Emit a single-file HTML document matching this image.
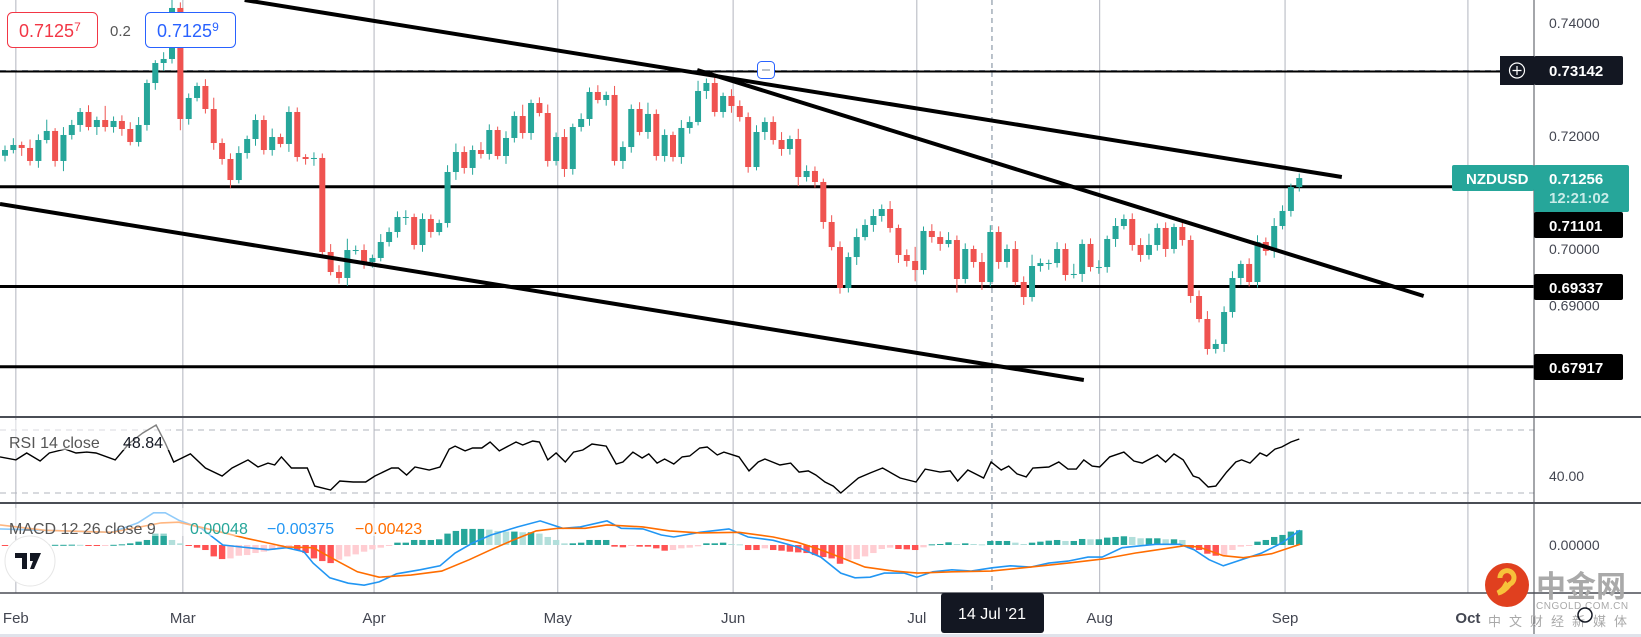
<!DOCTYPE html>
<html><head><meta charset="utf-8"><style>
html,body{margin:0;padding:0;background:#fff;}
svg{display:block;font-family:"Liberation Sans","Noto Sans CJK SC",sans-serif;}
</style></head><body>
<svg id="chart" width="1641" height="637" viewBox="0 0 1641 637">
<rect x="0" y="0" width="1641" height="637" fill="#ffffff"/>
<g id="grid"></g>
<g id="levels"></g>
<g id="candles"></g>
<g id="trend"></g>
<g id="rsi"></g>
<g id="macd"></g>
<g id="axes"></g>
</svg>
<script>
const closes=[0.71752,0.71841,0.71788,0.71558,0.71929,0.72089,0.71558,0.72018,0.72195,0.72425,0.72159,0.72283,0.72159,0.72266,0.72124,0.71894,0.72195,0.72938,0.73292,0.73363,0.74266,0.72301,0.72673,0.72885,0.72478,0.71876,0.71593,0.71221,0.71699,0.71947,0.72283,0.71752,0.71982,0.71859,0.72425,0.71628,0.71593,0.71611,0.69947,0.69593,0.69487,0.69982,0.69982,0.69770,0.69841,0.70124,0.70301,0.70566,0.70566,0.70071,0.70531,0.70301,0.70460,0.71363,0.71717,0.71434,0.71752,0.71682,
0.72106,0.71646,0.71965,0.72354,0.72053,0.72584,0.72407,0.71558,0.71982,0.71416,0.72159,0.72301,0.72779,0.72637,0.72726,0.71558,0.71805,0.72478,0.72071,0.72390,0.71646,0.72018,0.71628,0.72142,0.72248,0.72797,0.72938,0.72425,0.72708,0.72531,0.72336,0.71451,0.72071,0.72248,0.71929,0.71770,0.71947,0.71274,0.71381,0.71186,0.70478,0.70035,0.69310,0.69858,0.70212,0.70425,0.70584,0.70708,0.70372,0.69894,0.69788,0.69628,0.70319,0.70212,0.70089,0.70159,0.69469,0.70000,0.69770,
0.69416,0.70301,0.69770,0.70000,0.69416,0.69150,0.69699,0.69752,0.69752,0.70000,0.69540,0.69558,0.70089,0.69681,0.69681,0.70177,0.70407,0.70531,0.70071,0.69894,0.70071,0.70372,0.70000,0.70389,0.70159,0.69168,0.68761,0.68230,0.68319,0.68885,0.69487,0.69735,0.69416,
0.70124,0.69965,0.70407,0.70673,0.71097,0.71256];
const firstOpen=0.71650;
const wickUp=[8,12,6,15,10,20,5,14,9,7,12,6,25,8,10,12,14,6,5,12,18,10,8,6,12,20,8,10,12,6,10,8,15,6,10,8,5,10,8,14,12,20,8,10,6,14,8,10,12,6,10,8,6,12,15,10,8,14,10,6,12,8,20,6,10,15,8,14,6,10,8,12,6,16,10,8,12,20,8,10,6,14,10,18,8,10,6,12,10,8,12,8,10,14,6,18,10,8,6,12,10,8,15,10,12,8,14,6,10,25,8,12,10,14,8,10,6,16,12,10,8,14,10,20,8,6,12,10,18,8,10,12,6,14,8,10,12,20,8,10,6,12,8,10,14,8,10,12,6,10,12,8,14,10,6,8];
const wickDn=[10,6,14,8,12,6,10,18,8,12,6,14,8,10,12,6,8,10,12,14,8,20,10,6,8,12,10,14,6,10,12,8,10,6,14,8,10,12,8,6,10,14,8,12,10,6,8,10,14,8,12,10,6,8,14,10,12,8,10,6,14,8,10,12,6,10,8,14,10,8,12,6,10,8,14,10,6,12,8,10,8,12,10,6,14,8,10,12,8,10,6,14,8,12,10,16,8,10,12,6,10,8,14,6,12,10,8,14,10,20,8,10,12,6,24,8,10,14,8,12,10,6,14,8,10,12,8,10,6,14,8,12,10,14,6,10,12,8,10,14,8,10,12,6,10,8,14,10,12,8,10,8,12,6,10,8];
const levelPrices=[0.73142,0.71101,0.69337,0.67917];
const priceTicks=["0.74000","0.72000","0.70000","0.69000"];
const priceTickVals=[0.74,0.72,0.70,0.69];
const monthLabels=["Feb","Mar","Apr","May","Jun","Jul","Aug","Sep","Oct"];
const monthBars=[1.3,21.3,44.2,66.2,87.2,109.2,131.1,153.3,175.2];
const crossBar=118.2;
const trendStartBar=[28.7,82.9,-0.6];
const trendStartPrice=[0.74407,0.73168,0.70796];
const trendEndBar=[160.1,169.9,129.2];
const trendEndPrice=[0.71274,0.69168,0.67681];
const rsiIdx=[-0.6,1.3,2.6,4.2,5.3,7.2,8.5,9.8,10.9,13.2,14.9,16.5,18.1,19.2,20.2,22.2,24,26,27.2,29.1,30.3,31.5,32.3,33.1,34.3,36.2,37.1,39,40.1,41.7,43.2,44.3,46.3,47.1,48.1,49.1,50.8,52.1,53.2,53.9,55.1,56,57.1,58.1,59.2,61.2,62,63.2,64,65,66,67.1,68.1,69.2,70.3,72,73.2,74,75.2,76.3,77.1,78.1,79,80.1,81.1,82,83.2,84.1,85.3,86.1,87.9,89.1,90.2,91,92.8,94.1,95.1,96.2,97.1,98.2,99.2,100.1,102.2,103.6,105.1,107.2,109.1,110.2,112,113.2,114.1,115.3,117.2,118.1,119.3,120.2,121.2,122.3,123.1,125,126.2,127.3,128.3,129.2,130.2,131.1,132.3,134,135.2,136.2,138,139,140,141.1,142.3,143,144.1,145,146.3,147.4,148.1,149.1,150.3,151.1,152.1,152.9,154,155];
const rsiVal=[52.9,51.0,55.4,50.3,55.4,57.9,55.4,56.0,55.4,51.0,61.7,68.1,73.2,61.7,49.7,54.8,45.9,40.8,45.9,51.0,46.5,49.0,47.8,52.9,45.9,45.9,34.4,31.9,37.6,37.0,37.0,40.8,45.9,45.9,41.4,46.5,44.6,46.5,57.9,59.8,56.7,58.6,58.6,62.4,56.7,62.4,60.5,63.0,62.4,51.0,55.4,49.7,56.0,57.3,61.1,59.8,48.4,49.7,56.0,52.2,54.8,49.0,51.6,48.4,52.9,53.5,58.6,59.2,54.1,56.0,52.9,44.0,49.7,51.6,47.8,49.0,43.3,44.0,41.4,37.0,34.4,30.0,39.5,42.7,45.9,39.5,37.0,45.2,43.3,44.0,37.6,44.6,39.5,49.7,44.6,47.1,42.1,40.2,45.9,46.5,49.7,45.2,45.2,51.0,47.1,46.5,52.9,56.0,50.3,49.0,54.1,49.7,54.8,51.0,40.8,39.5,33.8,34.4,43.3,49.7,51.0,49.0,55.4,53.5,57.9,59.2,62.4,64.3];
const macdIdx=[-0.6,4.8,12.8,15.9,17.8,19.2,20.8,23.5,26.1,28.3,31.5,33.7,35.8,36.9,38.9,41.1,43,44.8,46.9,49.7,52.1,53.9,56,58.2,61.4,64.1,66.8,68.9,72.1,73.8,76.4,78.6,80.1,83.2,86.7,89,92,94.9,97.7,100.1,101.8,103.6,105.3,107.7,109.2,111.1,113.4,115.7,118.2,120.4,122.8,125,127.3,129.7,131.4,133.8,137.8,140.7,142.4,144.2,145.9,148.3,150.5,152.9,155.1];
const macdVal=[0.0024,0.0022,0.0019,0.0033,0.0048,0.0048,0.0037,0.0025,0,-0.0003,-0.0007,-0.0004,-0.001,-0.0027,-0.0049,-0.0057,-0.006,-0.0055,-0.0043,-0.0037,-0.0031,-0.0012,0.0003,0.0015,0.0027,0.0036,0.0025,0.0027,0.0036,0.0025,0.0024,0.0015,0.0012,0.0019,0.0024,0.0012,0.0007,-0.0003,-0.0018,-0.0042,-0.0049,-0.0048,-0.0042,-0.0042,-0.0048,-0.004,-0.0037,-0.0039,-0.0034,-0.0031,-0.0033,-0.0027,-0.0024,-0.0018,-0.0018,-0.0004,0.0001,0.0001,-0.0007,-0.0022,-0.0031,-0.0021,-0.0012,0.0003,0.0022];
const signalIdx=[-0.6,4.8,12.8,18.7,20.8,24,28.9,33.7,36.9,39.5,42.2,44.8,48.6,52.3,55.6,58.2,60.8,63.6,66.2,69.5,72.1,76.4,79.6,83.2,87.9,92,94.9,97.7,100.6,103,106.5,109.3,113.4,118.1,122.8,127.3,131.4,135.4,141.3,143,145.9,148.3,151.7,155.1];
const signalVal=[0.003,0.0022,0.0019,0.0033,0.0034,0.0025,0.001,-0.0003,-0.0004,-0.0022,-0.004,-0.0048,-0.0045,-0.0039,-0.0022,-0.0007,0.0007,0.0021,0.0025,0.0025,0.003,0.0027,0.0021,0.0018,0.0019,0.0012,0.0004,-0.0007,-0.0021,-0.0033,-0.0039,-0.0042,-0.004,-0.0039,-0.0033,-0.0027,-0.0021,-0.0012,-0.0001,-0.0003,-0.0016,-0.0019,-0.0013,0.0001];
const histVal=[-0.00005,-0.00005,-0.0001,-0.00005,0.00003,0.00003,0.00003,0.00003,0.00005,0.00003,-0.00005,-0.0001,-0.00005,0.00003,0.0001,0.00025,0.0005,0.00075,0.0017,0.0017,0.00075,0.00025,-0.00015,-0.0004,-0.00075,-0.0017,-0.0021,-0.002,-0.0016,-0.0015,-0.0012,-0.001,-0.00075,-0.0006,-0.0005,-0.00075,-0.0012,-0.002,-0.0024,-0.0027,-0.0022,-0.0017,-0.0014,-0.001,-0.00065,-0.0004,-0.00015,0.00035,0.00035,0.00075,0.00075,0.00075,0.00085,0.0017,0.0021,0.0024,0.0024,0.0024,0.0023,0.0021,0.002,0.002,0.0019,0.0019,0.0017,0.0012,0.00075,0.00025,0.00025,0.00035,0.00075,0.00075,0.00075,-0.00025,-0.00035,-0.00015,-0.00025,-0.00025,-0.0005,-0.00085,-0.00075,-0.0005,-0.0004,-0.0002,0.00025,0.00025,0.00035,0.00015,0.0001,-0.00075,-0.00075,-0.0005,-0.00075,-0.00085,-0.001,-0.0011,-0.0012,-0.0015,-0.0018,-0.002,-0.0028,-0.0022,-0.0021,-0.0017,-0.0012,-0.0006,-0.0004,-0.0006,-0.00065,-0.00075,-0.00035,0.0001,0.00015,0.0004,0.00015,0.00025,0.00015,0.0001,0.0006,0.0006,0.0006,0.00035,0.00015,0.00035,0.0005,0.00065,0.00075,0.0006,0.0006,0.0009,0.00085,0.00085,0.0011,0.0012,0.0013,0.0012,0.001,0.001,0.001,0.00085,0.00085,0.00075,-0.0005,-0.00075,-0.0013,-0.0016,-0.0015,-0.00075,-0.00025,-0.00015,0.0005,0.00075,0.0012,0.0015,0.002,0.0022];

const NS='http://www.w3.org/2000/svg';
const X0=5, STEP=8.35, PLOT_R=1534;
function xOf(i){return X0+STEP*i;}
function yP(p){return 136+(0.72-p)*5650;}
function yR(v){return 430+(70-v)*1.575;}
function yM(v){return 545-v*6700;}
function mk(tag,attrs,parent){const e=document.createElementNS(NS,tag);for(const k in attrs)e.setAttribute(k,attrs[k]);parent.appendChild(e);return e;}
function txt(s,attrs,parent){const e=mk('text',attrs,parent);e.textContent=s;return e;}
const G=id=>document.getElementById(id);

// grid
const grid=G('grid');
monthBars.forEach((b,k)=>{
  const l=mk('line',{x1:xOf(b),x2:xOf(b),y1:0,y2:593,stroke:'#b2b5be','stroke-width':1},grid);
  
  
});
const ch=mk('line',{x1:xOf(crossBar),x2:xOf(crossBar),y1:0,y2:593,stroke:'#758696','stroke-width':1,'stroke-dasharray':'5,4'},grid);



// levels
const lv=G('levels');
mk('line',{x1:0,x2:PLOT_R,y1:yP(levelPrices[0])-1,y2:yP(levelPrices[0])-1,stroke:'#9aa4b5','stroke-width':1,'stroke-dasharray':'6,5'},lv);
levelPrices.forEach((p,k)=>{
  const xe=k===1?1452:PLOT_R;
  const l=mk('line',{x1:0,x2:xe,y1:yP(p),y2:yP(p),stroke:'#000',"stroke-width":k===0?2:3},lv);
  
  
});

// candles
const cg=G('candles');
for(let i=0;i<closes.length;i++){
  const o=i===0?firstOpen:closes[i-1], c=closes[i];
  const up=c>=o, col=up?'#26a69a':'#ef5350';
  const hi=Math.max(o,c)+wickUp[i]*0.0001, lo=Math.min(o,c)-wickDn[i]*0.0001;
  const x=xOf(i);
  const w=mk('line',{x1:x,x2:x,y1:yP(hi),y2:yP(lo),stroke:col,'stroke-width':1},cg);
  
  
  const yt=yP(Math.max(o,c)), yb=yP(Math.min(o,c));
  const r=mk('rect',{x:x-3,y:yt,width:6,height:Math.max(1,yb-yt),fill:col},cg);
  
  
}

// trend lines
const tg=G('trend');
for(let k=0;k<trendStartBar.length;k++){
  const l=mk('line',{x1:xOf(trendStartBar[k]),y1:yP(trendStartPrice[k]),x2:xOf(trendEndBar[k]),y2:yP(trendEndPrice[k]),stroke:'#000','stroke-width':4},tg);
  
  
}

// RSI
const rg=G('rsi');
[70,30].forEach(v=>{const l=mk('line',{x1:0,x2:PLOT_R,y1:yR(v),y2:yR(v),stroke:'#b2b5be','stroke-dasharray':'6,5'},rg);

});
const rp=mk('polyline',{points:rsiIdx.map((b,k)=>xOf(b).toFixed(1)+','+yR(rsiVal[k]).toFixed(1)).join(' '),fill:'none',stroke:'#000','stroke-width':1.4},rg);


mk('rect',{x:0,y:420,width:170,height:30,fill:'#fff','fill-opacity':0.5},rg);
const rl=txt('RSI 14 close',{x:9,y:448,'font-size':16,fill:'#555'},rg);


const rv=txt('48.84',{x:123,y:448,'font-size':16,fill:'#131722'},rg);



// MACD
const mg=G('macd');
histVal.forEach((v,i)=>{
  const prev=i>0?histVal[i-1]:0;
  let col;
  if(v>=0) col=v>=prev?'#26a69a':'#b2dfdb'; else col=v<=prev?'#ff5252':'#ffcdd2';
  const y0=yM(0), y1=yM(v);
  const r=mk('rect',{x:xOf(i)-3.2,y:Math.min(y0,y1),width:6.4,height:Math.max(1,Math.abs(y1-y0)),fill:col},mg);
  
  
});
const ml=mk('polyline',{points:macdIdx.map((b,k)=>xOf(b).toFixed(1)+','+yM(macdVal[k]).toFixed(1)).join(' '),fill:'none',stroke:'#2196f3','stroke-width':1.6},mg);


const sl=mk('polyline',{points:signalIdx.map((b,k)=>xOf(b).toFixed(1)+','+yM(signalVal[k]).toFixed(1)).join(' '),fill:'none',stroke:'#ff6d00','stroke-width':1.6},mg);


mk('rect',{x:0,y:508,width:440,height:28,fill:'#fff','fill-opacity':0.5},mg);
const mlg=txt('MACD 12 26 close 9',{x:9,y:534,'font-size':16,fill:'#555'},mg);


const h1=txt('0.00048',{x:190,y:534,'font-size':16,fill:'#26a69a'},mg);


const h2=txt('\u22120.00375',{x:267,y:534,'font-size':16,fill:'#2196f3'},mg);


const h3=txt('\u22120.00423',{x:355,y:534,'font-size':16,fill:'#ff6d00'},mg);



// axes
const ag=G('axes');
mk('line',{x1:0,x2:1641,y1:417,y2:417,stroke:'#4a4d55','stroke-width':2},ag);
mk('line',{x1:0,x2:1641,y1:503,y2:503,stroke:'#4a4d55','stroke-width':2},ag);
mk('line',{x1:0,x2:1641,y1:593,y2:593,stroke:'#4a4d55','stroke-width':1.5},ag);
mk('line',{x1:PLOT_R,x2:PLOT_R,y1:0,y2:637,stroke:'#4a4d55','stroke-width':1},ag);
mk('rect',{x:0,y:634,width:1641,height:3,fill:'#e0e3eb'},ag);
priceTicks.forEach((t,k)=>{const e=txt(t,{x:1549,y:yP(priceTickVals[k])+5,'font-size':14,fill:'#434651'},ag);

});
const r40=txt('40.00',{x:1549,y:481,'font-size':14,fill:'#434651'},ag);


const m0=txt('0.00000',{x:1549,y:550,'font-size':14,fill:'#434651'},ag);


monthLabels.forEach((m,k)=>{const e=txt(m,{x:xOf(monthBars[k]),y:623,'font-size':15,fill:'#434651','text-anchor':'middle','font-weight':m==='Oct'?'bold':'normal'},ag);

});
</script>
<svg width="1641" height="637" style="position:absolute;left:0;top:0;pointer-events:none">
<g font-family="Liberation Sans, sans-serif">
<rect x="7.5" y="12.5" width="90" height="35" rx="5" fill="#fff" stroke="#f23645"/>
<text x="19" y="37" font-size="18" fill="#f23645">0.7125<tspan font-size="12" dy="-6">7</tspan></text>
<text x="110" y="36" font-size="15" fill="#555">0.2</text>
<rect x="145.5" y="12.5" width="90" height="35" rx="5" fill="#fff" stroke="#2962ff"/>
<text x="157" y="37" font-size="18" fill="#2962ff">0.7125<tspan font-size="12" dy="-6">9</tspan></text>
<rect x="757.5" y="61.5" width="17" height="17" rx="4" fill="#fff" stroke="#2962ff"/>
<line x1="762" x2="770" y1="70" y2="70" stroke="#758696"/>
<rect x="1500" y="56" width="34" height="29" fill="#131722"/>
<circle cx="1517" cy="70.5" r="7.5" fill="none" stroke="#fff" stroke-width="1.2"/>
<path d="M1512.5 70.5h9M1517 66v9" stroke="#fff" stroke-width="1.2"/>
<rect x="1534" y="56" width="89" height="29" rx="2" fill="#131722"/>
<text x="1549" y="76" font-size="15" font-weight="bold" fill="#fff">0.73142</text>
<rect x="1452" y="165" width="82" height="26" rx="2" fill="#26a69a"/>
<text x="1466" y="184" font-size="15" font-weight="bold" fill="#fff">NZDUSD</text>
<rect x="1534" y="165" width="95" height="47" rx="2" fill="#26a69a"/>
<text x="1549" y="184" font-size="15" font-weight="bold" fill="#fff">0.71256</text>
<text x="1549" y="203" font-size="15" font-weight="bold" fill="#c8ece8">12:21:02</text>
<rect x="1534" y="212" width="89" height="26" rx="2" fill="#000"/>
<text x="1549" y="231" font-size="15" font-weight="bold" fill="#fff">0.71101</text>
<rect x="1534" y="274" width="89" height="26" rx="2" fill="#000"/>
<text x="1549" y="293" font-size="15" font-weight="bold" fill="#fff">0.69337</text>
<rect x="1534" y="354" width="89" height="26" rx="2" fill="#000"/>
<text x="1549" y="373" font-size="15" font-weight="bold" fill="#fff">0.67917</text>
<rect x="941" y="593" width="103" height="40" rx="3" fill="#131722"/>
<text x="992" y="619" font-size="16" fill="#fff" text-anchor="middle">14 Jul '21</text>
<circle cx="30" cy="561" r="25" fill="#fff" stroke="#e6e6e6"/>
<path d="M15 553h12v16h-5v-11h-7z M30 553h11l-7 16h-4l3-8h-3z" fill="#131722"/>
<circle cx="36" cy="556" r="3" fill="#131722"/>
<circle cx="1507" cy="585" r="22" fill="#e0401f"/>
<path d="M1500 578a7 7 0 1 1 10 6c-3 4-7 8-12 9 6-4 9-8 6-10" fill="none" stroke="#f7c23a" stroke-width="5"/>
<text x="1536" y="597" font-size="30" font-weight="bold" fill="#a9a9a9" font-family="Noto Sans CJK SC, sans-serif">中金网</text>
<text x="1536" y="609" font-size="10" fill="#a9a9a9" letter-spacing="0.5">CNGOLD.COM.CN</text>
<text x="1488" y="626" font-size="13" fill="#a9a9a9" letter-spacing="8" font-family="Noto Sans CJK SC, sans-serif">中文财经新媒体</text>
<circle cx="1585" cy="615" r="7" fill="none" stroke="#131722" stroke-width="1.5"/>
</g>
</svg>
</body></html>
